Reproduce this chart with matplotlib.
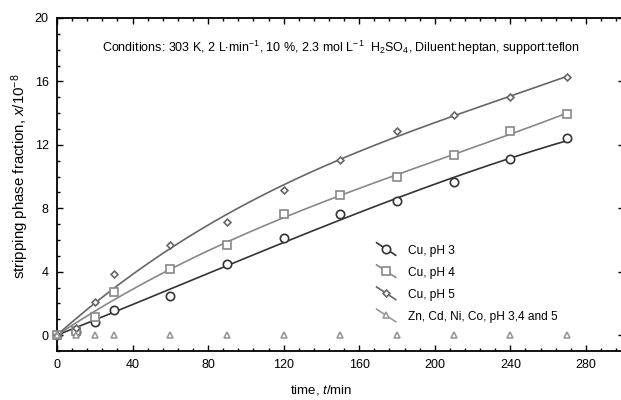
import numpy as np
import matplotlib
matplotlib.use("Agg")
import matplotlib.pyplot as plt
from matplotlib.lines import Line2D
from matplotlib.legend_handler import HandlerLine2D
from matplotlib.ticker import MultipleLocator

plt.rcParams['font.family'] = ['Liberation Sans', 'DejaVu Sans']
plt.rcParams['mathtext.fontset'] = 'custom'
plt.rcParams['mathtext.rm'] = 'Liberation Sans'
plt.rcParams['mathtext.it'] = 'Liberation Sans:italic'

# data
time = [0, 10, 20, 30, 60, 90, 120, 150, 180, 210, 240, 270]
cu_ph3 = [0, 0.2, 0.82, 1.58, 2.46, 4.46, 6.14, 7.63, 8.45, 9.67, 11.1, 12.41]
cu_ph4 = [0, 0.27, 1.16, 2.75, 4.15, 5.7, 7.61, 8.85, 9.95, 11.34, 12.85, 13.94]
cu_ph5 = [0, 0.48, 2.08, 3.85, 5.66, 7.15, 9.15, 11.06, 12.89, 13.88, 15.04, 16.26]
others = [0, 0, 0, 0, 0, 0, 0, 0, 0, 0, 0, 0]

labels = ['Cu, pH 3', 'Cu, pH 4', 'Cu, pH 5', 'Zn, Cd, Ni, Co, pH 3,4 and 5']
colors = ['#333333', '#888888', '#666666', '#999999']
markers = ['o', 's', 'D', '^']
msizes = [6, 6, 3.5, 4]
series = [cu_ph3, cu_ph4, cu_ph5, others]


class DiagHandler(HandlerLine2D):
    # legend sample drawn as a short descending line with the marker in the middle
    def create_artists(self, legend, orig_handle, xdescent, ydescent,
                       width, height, fontsize, trans):
        x0, x1 = -xdescent, -xdescent + width
        y0, y1 = height - ydescent + 2, -ydescent - 1
        line = Line2D([x0, x1], [y0, y1], color=orig_handle.get_color(),
                      lw=orig_handle.get_linewidth())
        mk = Line2D([(x0 + x1) / 2], [(y0 + y1) / 2],
                    marker=orig_handle.get_marker(),
                    markersize=orig_handle.get_markersize(),
                    markerfacecolor='white',
                    markeredgecolor=orig_handle.get_color(),
                    markeredgewidth=orig_handle.get_markeredgewidth(),
                    linestyle='none')
        line.set_transform(trans)
        mk.set_transform(trans)
        return [line, mk]


fig = plt.figure(figsize=(6.21, 4.0), dpi=100)
ax = fig.add_axes([57 / 621, 1 - 351 / 400, 566.7 / 621, (351 - 18) / 400])

t = np.array(time, dtype=float)
tt = np.linspace(0, 270, 200)
handles = []
for y, lab, c, m, ms in zip(series, labels, colors, markers, msizes):
    y = np.array(y, dtype=float)
    if y.any():
        # least-squares fit through the origin: y = a t + b t^2 + c t^3
        A = np.column_stack([t, t ** 2, t ** 3])
        coef = np.linalg.lstsq(A, y, rcond=None)[0]
        ax.plot(tt, np.column_stack([tt, tt ** 2, tt ** 3]) @ coef,
                color=c, lw=1.2)
    ax.plot(t, y, linestyle='none', marker=m, markersize=ms,
            markerfacecolor='white', markeredgecolor=c, markeredgewidth=1.2,
            clip_on=False, zorder=3)
    handles.append(Line2D([], [], color=c, lw=1.2, marker=m, markersize=ms,
                          markeredgewidth=1.2))

ax.set_xlim(0, 300)
ax.set_ylim(-1, 20)
ax.xaxis.set_major_locator(MultipleLocator(40))
ax.xaxis.set_minor_locator(MultipleLocator(8))
ax.yaxis.set_major_locator(MultipleLocator(4))
ax.yaxis.set_minor_locator(MultipleLocator(1))
ax.set_xticks(np.arange(0, 281, 40))
ax.tick_params(which='both', direction='in', top=True, right=True,
               labelsize=9, width=1, pad=6)
ax.tick_params(which='major', length=4)
ax.tick_params(which='minor', length=2)
for sp in ax.spines.values():
    sp.set_linewidth(1.3)

ax.set_xlabel(r'time, $\it{t}$/min', fontsize=9.5)
ax.xaxis.set_label_coords(140 / 300, -0.095)
ax.set_ylabel(r'stripping phase fraction, $\it{x}$/10$^{-8}$', fontsize=10.8)
ax.yaxis.set_label_coords(-0.046, 11 / 21)

ax.text(0.5, 0.91,
        r'Conditions: 303 K, 2 L$\cdot$min$^{-1}$, 10 %, 2.3 mol L$^{-1}$  '
        r'H$_2$SO$_4$, Diluent:heptan, support:teflon',
        transform=ax.transAxes, ha='center', va='center', fontsize=9)

ax.legend(handles, labels, handler_map={Line2D: DiagHandler()},
          loc='upper left', bbox_to_anchor=(0.545, 0.351), frameon=False,
          fontsize=8.6, handlelength=1.6, handletextpad=1.0,
          labelspacing=0.85)

fig.savefig('out.png', dpi=100)
